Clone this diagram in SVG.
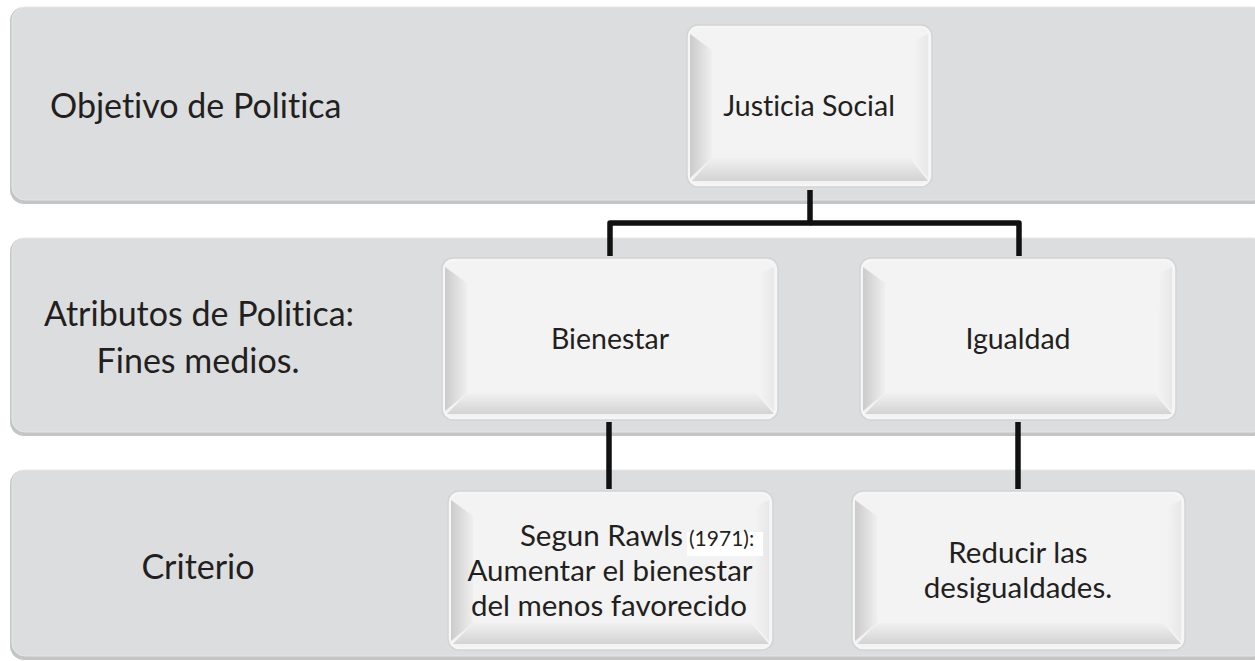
<svg xmlns="http://www.w3.org/2000/svg" width="1255" height="661" viewBox="0 0 1255 661">
<defs>
<linearGradient id="gl" x1="0" y1="0" x2="1" y2="0"><stop offset="0" stop-color="#cbcbcb"/><stop offset="1" stop-color="#efefef"/></linearGradient>
<linearGradient id="gb" x1="0" y1="0" x2="0" y2="1"><stop offset="0" stop-color="#f1f1f1"/><stop offset="1" stop-color="#d3d3d3"/></linearGradient>
<linearGradient id="gr" x1="0" y1="0" x2="1" y2="0"><stop offset="0" stop-color="#f4f4f4"/><stop offset="1" stop-color="#e8e8e8"/></linearGradient>
</defs>
<style>
.band-shadow{fill:#c4c5c7}
.band{fill:#dcdddf;stroke:#e6e6e6;stroke-width:1}
.rim{fill:#f6f6f6;stroke:#d2d3d5;stroke-width:1.5}
.face{fill:#f3f3f3}
.bl{fill:url(#gl)}
.bb{fill:url(#gb)}
.br{fill:url(#gr)}
text{font-family:Lato,"Liberation Sans",sans-serif;fill:#231f20;font-variant-ligatures:none}
.lbl{font-size:34px}
.txt{font-size:28.5px;text-anchor:middle}
.txt2{font-size:29.5px;text-anchor:middle}
.small{font-size:21px}
.conn{fill:none;stroke:#111;stroke-width:5.5;stroke-linejoin:round}
</style>
<rect width="1255" height="661" fill="#ffffff"/>

<g id="band1">
<rect class="band-shadow" x="10" y="7" width="1256" height="197" rx="14"/>
<rect class="band" x="12" y="7" width="1254" height="193" rx="13"/>
<text class="lbl" x="50" y="118">Objetivo de Politica</text>
</g>
<g id="band2">
<rect class="band-shadow" x="10" y="238" width="1256" height="198" rx="14"/>
<rect class="band" x="12" y="238" width="1254" height="194" rx="13"/>
<text class="lbl" x="199" y="326" text-anchor="middle">Atributos de Politica:</text>
<text class="lbl" x="198" y="373" text-anchor="middle">Fines medios.</text>
</g>
<g id="band3">
<rect class="band-shadow" x="10" y="470" width="1256" height="190" rx="14"/>
<rect class="band" x="12" y="470" width="1254" height="186" rx="13"/>
<text class="lbl" x="198" y="579" text-anchor="middle">Criterio</text>
</g>

<g id="connectors">
<path class="conn" d="M810,190 V223 H610 V256"/>
<path class="conn" d="M810,223 H1019 V256"/>
<path class="conn" d="M609,422 V489"/>
<path class="conn" d="M1018,422 V489"/>
</g>

<g id="node-justicia">
<rect class="rim" x="687" y="25" width="245" height="162" rx="11"/>
<rect class="face" x="690" y="28" width="239" height="156" rx="9"/>
<polygon class="bl" points="690,34 712,50 712,158 690,178"/>
<polygon class="bb" points="712,158 910,158 928,181 692,181"/>
<polygon class="br" points="916,40 928,34 928,178 912,158"/>
<text class="txt" x="809" y="116">Justicia Social</text>
</g>

<g id="node-bienestar">
<rect class="rim" x="442" y="258" width="336" height="162" rx="11"/>
<rect class="face" x="445" y="261" width="330" height="156" rx="9"/>
<polygon class="bl" points="445,267 467,283 467,393 445,411"/>
<polygon class="bb" points="467,393 756,393 774,414 447,414"/>
<polygon class="br" points="762,273 774,267 774,411 758,393"/>
<text class="txt" x="610" y="349">Bienestar</text>
</g>

<g id="node-igualdad">
<rect class="rim" x="860" y="258" width="316" height="162" rx="11"/>
<rect class="face" x="863" y="261" width="310" height="156" rx="9"/>
<polygon class="bl" points="863,267 885,283 885,393 863,411"/>
<polygon class="bb" points="885,393 1154,393 1172,414 865,414"/>
<polygon class="br" points="1160,273 1172,267 1172,411 1156,393"/>
<text class="txt" x="1018" y="349">Igualdad</text>
</g>

<g id="node-rawls">
<rect class="rim" x="448" y="491" width="325" height="159" rx="11"/>
<rect class="face" x="451" y="494" width="319" height="153" rx="9"/>
<polygon class="bl" points="451,500 473,516 473,623 451,641"/>
<polygon class="bb" points="473,623 751,623 769,644 453,644"/>
<polygon class="br" points="757,506 769,500 769,641 753,623"/>
<rect x="687" y="532" width="76" height="24" fill="#ffffff"/>
<text class="txt2" x="683" y="546" style="text-anchor:end">Segun Rawls</text>
<text class="small" x="689" y="546">(1971):</text>
<text class="txt2" x="610" y="581">Aumentar el bienestar</text>
<text class="txt2" x="609" y="616">del menos favorecido</text>
</g>

<g id="node-reducir">
<rect class="rim" x="852" y="491" width="333" height="159" rx="11"/>
<rect class="face" x="855" y="494" width="327" height="153" rx="9"/>
<polygon class="bl" points="855,500 877,516 877,623 855,641"/>
<polygon class="bb" points="877,623 1163,623 1181,644 857,644"/>
<polygon class="br" points="1169,506 1181,500 1181,641 1165,623"/>
<text class="txt2" x="1018" y="563">Reducir las</text>
<text class="txt2" x="1018" y="598">desigualdades.</text>
</g>
</svg>
